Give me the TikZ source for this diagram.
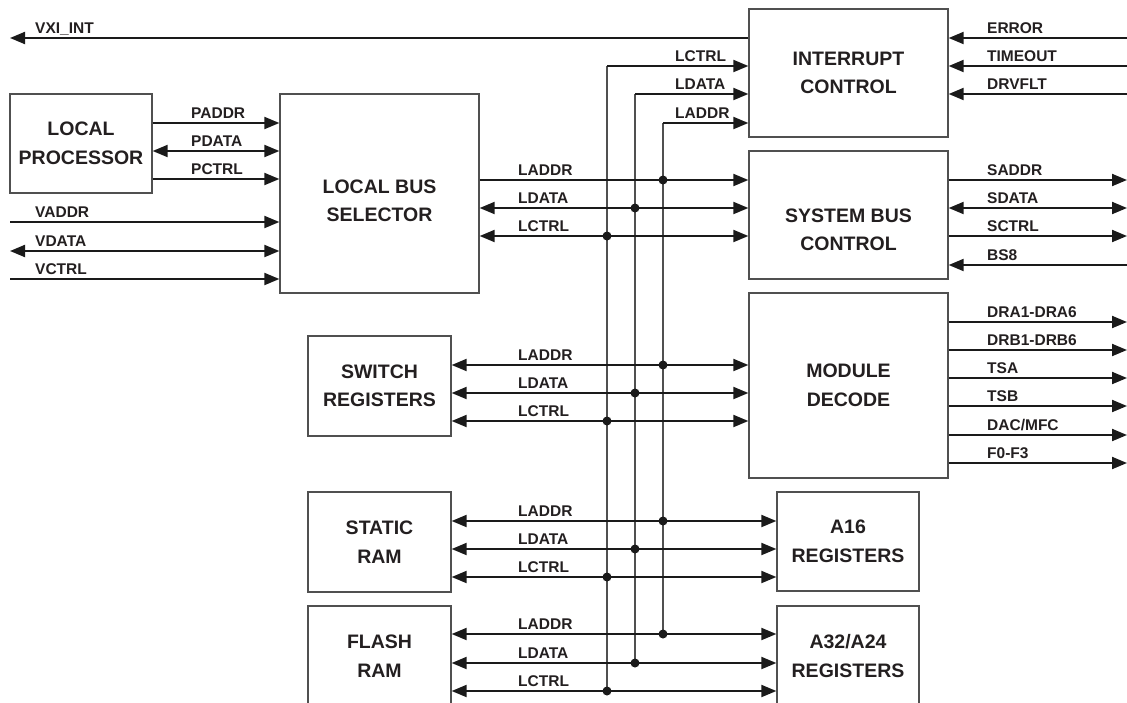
\documentclass[tikz,border=0pt]{standalone}
\usepackage{fontspec}
\setmainfont{Liberation Sans}
\usetikzlibrary{arrows.meta}
\definecolor{txt}{HTML}{231F20}
\definecolor{boxline}{HTML}{505050}
\definecolor{wire}{HTML}{1A1A1A}
\begin{document}
\begin{tikzpicture}[x=1pt,y=-1pt,
  box/.style={draw=boxline,line width=1.3pt,inner sep=0pt,align=center,text=txt,
    font=\fontsize{19.5}{28.5}\selectfont\bfseries},
  boxtext/.style={inner sep=0pt,align=center,text=txt,font=\fontsize{19.5}{28.5}\selectfont\bfseries},
  lab/.style={inner sep=0pt,anchor=base west,text=txt,font=\fontsize{15.5}{18}\selectfont\bfseries},
  wireline/.style={draw=wire,line width=2pt},
  tip/.tip={Triangle[length=15pt,width=12pt]},
  one/.style={wireline,-tip},
  two/.style={wireline,tip-tip},
  vbus/.style={draw=boxline,line width=1.3pt},
  dot/.style={fill=wire}
]
\useasboundingbox (0,0) rectangle (1127,702);
\clip (0,0) rectangle (1127,702);

% boxes
\node[box,minimum width=142pt,minimum height=99pt] (lp) at (81,143.5) {LOCAL\\PROCESSOR};
\node[box,minimum width=199pt,minimum height=199pt] (lbs) at (379.5,193.5) {};
\node[boxtext] (lbst) at (379.5,201) {LOCAL BUS\\SELECTOR};
\node[box,minimum width=199pt,minimum height=128pt] (ic) at (848.5,73) {INTERRUPT\\CONTROL};
\node[box,minimum width=199pt,minimum height=128pt] (sbc) at (848.5,215) {};
\node[boxtext] (sbct) at (848.5,230) {SYSTEM BUS\\CONTROL};
\node[box,minimum width=199pt,minimum height=185pt] (md) at (848.5,385.5) {MODULE\\DECODE};
\node[box,minimum width=143pt,minimum height=100pt] (sw) at (379.5,386) {SWITCH\\REGISTERS};
\node[box,minimum width=143pt,minimum height=100pt] (sr) at (379.5,542) {STATIC\\RAM};
\node[box,minimum width=143pt,minimum height=100pt] (fr) at (379.5,656) {FLASH\\RAM};
\node[box,minimum width=142pt,minimum height=99pt] (a16) at (848,541.5) {A16\\REGISTERS};
\node[box,minimum width=142pt,minimum height=100pt] (a32) at (848,656) {A32/A24\\REGISTERS};

% free ends
\coordinate (lvxi) at (10,38);
\coordinate (lvaddr) at (10,222);
\coordinate (lvdata) at (10,251);
\coordinate (lvctrl) at (10,279);
\foreach \n/\y in {rerr/38,rtime/66,rdrv/94,rsaddr/180,rsdata/208,rsctrl/236,rbs8/265,
  rdra/322,rdrb/350,rtsa/378,rtsb/406,rdac/435,rf/463}
  \coordinate (\n) at (1127,\y);
% local bus vertical lines
\coordinate (bctrltop) at (607,66);
\coordinate (bdatatop) at (635,94);
\coordinate (baddrtop) at (663,123);
\coordinate (bctrlbot) at (607,691);
\coordinate (bdatabot) at (635,663);
\coordinate (baddrbot) at (663,634);

\draw[vbus] (bctrltop) -- (bctrlbot);
\draw[vbus] (bdatatop) -- (bdatabot);
\draw[vbus] (baddrtop) -- (baddrbot);

% VXI_INT
\draw[one] (ic.west |- lvxi) -- (lvxi);
\node[lab] (tvxi) at (35,33.5) {VXI\_INT};

% processor to selector
\draw[one] (lp.east |- 0,123) -- (lbs.west |- 0,123);
\draw[two] (lp.east |- 0,151) -- (lbs.west |- 0,151);
\draw[one] (lp.east |- 0,179) -- (lbs.west |- 0,179);
\node[lab] (tpaddr) at (191,118.5) {PADDR};
\node[lab] (tpdata) at (191,146.5) {PDATA};
\node[lab] (tpctrl) at (191,174.5) {PCTRL};

% V bus
\draw[one] (lvaddr) -- (lbs.west |- lvaddr);
\draw[two] (lvdata) -- (lbs.west |- lvdata);
\draw[one] (lvctrl) -- (lbs.west |- lvctrl);
\node[lab] (tvaddr) at (35,217.5) {VADDR};
\node[lab] (tvdata) at (35,246.5) {VDATA};
\node[lab] (tvctrl) at (35,274.5) {VCTRL};

% bus to interrupt control
\draw[one] (bctrltop) -- (ic.west |- bctrltop);
\draw[one] (bdatatop) -- (ic.west |- bdatatop);
\draw[one] (baddrtop) -- (ic.west |- baddrtop);
\node[lab] (ticctrl) at (675,61.5) {LCTRL};
\node[lab] (ticdata) at (675,89.5) {LDATA};
\node[lab] (ticaddr) at (675,118.5) {LADDR};

% interrupt inputs
\draw[one] (rerr) -- (ic.east |- rerr);
\draw[one] (rtime) -- (ic.east |- rtime);
\draw[one] (rdrv) -- (ic.east |- rdrv);
\node[lab] (terr) at (987,33.5) {ERROR};
\node[lab] (ttime) at (987,61.5) {TIMEOUT};
\node[lab] (tdrv) at (987,89.5) {DRVFLT};

% selector to system bus control
\draw[one] (lbs.east |- 0,180) -- (sbc.west |- 0,180);
\draw[two] (lbs.east |- 0,208) -- (sbc.west |- 0,208);
\draw[two] (lbs.east |- 0,236) -- (sbc.west |- 0,236);
\node[lab] (tsaddr1) at (518,175.5) {LADDR};
\node[lab] (tsdata1) at (518,203.5) {LDATA};
\node[lab] (tsctrl1) at (518,231.5) {LCTRL};

% system bus outputs
\draw[one] (sbc.east |- rsaddr) -- (rsaddr);
\draw[two] (sbc.east |- rsdata) -- (rsdata);
\draw[one] (sbc.east |- rsctrl) -- (rsctrl);
\draw[one] (rbs8) -- (sbc.east |- rbs8);
\node[lab] (tsaddr) at (987,175.5) {SADDR};
\node[lab] (tsdata) at (987,203.5) {SDATA};
\node[lab] (tsctrl) at (987,231.5) {SCTRL};
\node[lab] (tbs8) at (987,260.5) {BS8};

% module decode outputs
\draw[one] (md.east |- rdra) -- (rdra);
\draw[one] (md.east |- rdrb) -- (rdrb);
\draw[one] (md.east |- rtsa) -- (rtsa);
\draw[one] (md.east |- rtsb) -- (rtsb);
\draw[one] (md.east |- rdac) -- (rdac);
\draw[one] (md.east |- rf) -- (rf);
\node[lab] (tdra) at (987,317.5) {DRA1-DRA6};
\node[lab] (tdrb) at (987,345.5) {DRB1-DRB6};
\node[lab] (ttsa) at (987,373.5) {TSA};
\node[lab] (ttsb) at (987,401.5) {TSB};
\node[lab] (tdac) at (987,430.5) {DAC/MFC};
\node[lab] (tf) at (987,458.5) {F0-F3};

% switch registers <-> module decode
\draw[two] (sw.east |- 0,365) -- (md.west |- 0,365);
\draw[two] (sw.east |- 0,393) -- (md.west |- 0,393);
\draw[two] (sw.east |- 0,421) -- (md.west |- 0,421);
\node[lab] (twa) at (518,360.5) {LADDR};
\node[lab] (twd) at (518,388.5) {LDATA};
\node[lab] (twc) at (518,416.5) {LCTRL};

% static ram <-> a16
\draw[two] (sr.east |- 0,521) -- (a16.west |- 0,521);
\draw[two] (sr.east |- 0,549) -- (a16.west |- 0,549);
\draw[two] (sr.east |- 0,577) -- (a16.west |- 0,577);
\node[lab] (tra) at (518,516.5) {LADDR};
\node[lab] (trd) at (518,544.5) {LDATA};
\node[lab] (trc) at (518,572.5) {LCTRL};

% flash ram <-> a32
\draw[two] (fr.east |- 0,634) -- (a32.west |- 0,634);
\draw[two] (fr.east |- 0,663) -- (a32.west |- 0,663);
\draw[two] (fr.east |- 0,691) -- (a32.west |- 0,691);
\node[lab] (tfa) at (518,629.5) {LADDR};
\node[lab] (tfd) at (518,658.5) {LDATA};
\node[lab] (tfc) at (518,686.5) {LCTRL};

% junction dots
\foreach \y in {180,365,521,634} \fill[dot] (663,\y) circle[radius=4.5pt];
\foreach \y in {208,393,549,663} \fill[dot] (635,\y) circle[radius=4.5pt];
\foreach \y in {236,421,577,691} \fill[dot] (607,\y) circle[radius=4.5pt];
\end{tikzpicture}
\end{document}
